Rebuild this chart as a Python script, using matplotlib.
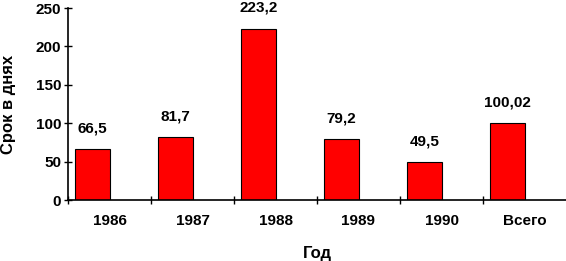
import matplotlib
matplotlib.use("Agg")
import matplotlib.pyplot as plt
import numpy as np

categories = ["1986", "1987", "1988", "1989", "1990", "Всего"]
values = [66.5, 81.7, 223.2, 79.2, 49.5, 100.02]
value_labels = ["66,5", "81,7", "223,2", "79,2", "49,5", "100,02"]

plt.rcParams['font.family'] = ['Liberation Sans', 'DejaVu Sans']

fig = plt.figure(figsize=(5.66, 2.61), dpi=100)
ax = fig.add_axes([68 / 566, 61 / 261, 498 / 566, 192 / 261])

x = np.arange(len(categories))
w = 0.41
# bars sit left of the category centre (like an empty second series)
ax.bar(x - w / 2, values, width=w, color="#ff0000", edgecolor="black", linewidth=0.8)

for xi, v, lab in zip(x, values, value_labels):
    ax.text(xi - w / 2, v + 18, lab, ha="center", va="bottom",
            fontsize=11, fontweight="bold", clip_on=False)

ax.set_xlim(-0.5, len(categories) - 0.5)
ax.set_ylim(0, 250)
ax.set_yticks(np.arange(0, 251, 50))
ax.set_xticks(x)
ax.set_xticklabels(categories, fontweight="bold", fontsize=11)
ax.set_xticks(np.arange(-0.5, len(categories) - 0.5, 1), minor=True)
for t in ax.get_yticklabels():
    t.set_fontweight("bold")
    t.set_fontsize(11)

ax.tick_params(axis="x", which="major", length=0, pad=10)
ax.tick_params(axis="x", which="minor", direction="inout", length=6, width=1)
ax.tick_params(axis="y", direction="inout", length=6, width=1, pad=2)

ax.spines["top"].set_visible(False)
ax.spines["right"].set_visible(False)
ax.spines["left"].set_linewidth(1.2)
ax.spines["bottom"].set_linewidth(1.2)

ax.set_xlabel("Год", fontsize=12, fontweight="bold", labelpad=13)
ax.set_ylabel("Срок в днях", fontsize=12, fontweight="bold")
ax.yaxis.set_label_coords(-0.104, 0.5)

fig.savefig("out.png", dpi=100)
